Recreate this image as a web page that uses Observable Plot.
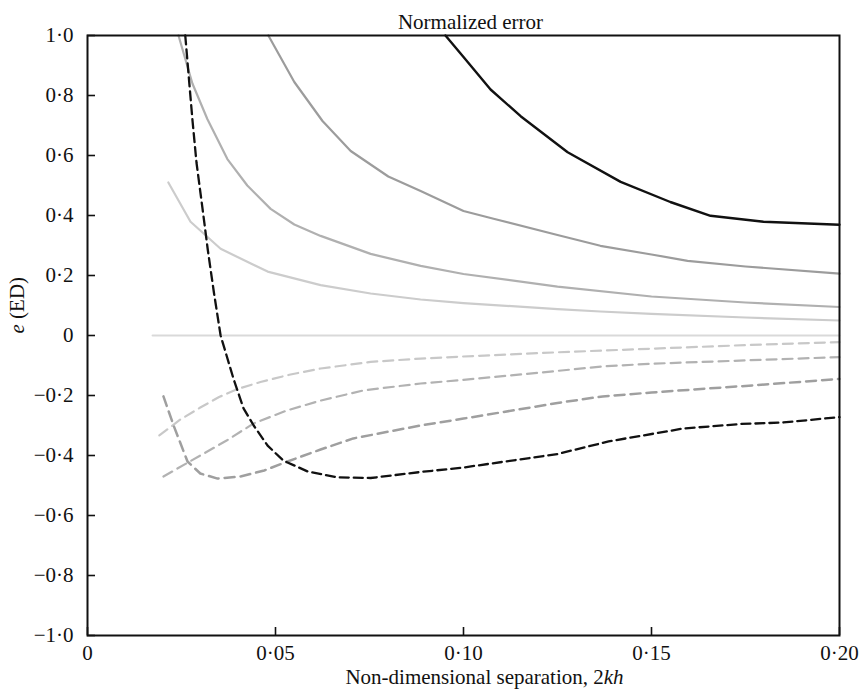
<!DOCTYPE html>
<html>
<head>
<meta charset="utf-8">
<script src="https://cdn.jsdelivr.net/npm/d3@7"></script>
<script src="https://cdn.jsdelivr.net/npm/@observablehq/plot@0.6"></script>
<style>
  html, body { margin: 0; padding: 0; background: #fff; }
</style>
</head>
<body>
<div id="chart"></div>
<script>
// ---- data ----
const titleText = "Normalized error";
const xLabel = "Non-dimensional separation, 2kh";
const yLabel = "e (ED)";
const xTicks = [0, 0.05, 0.10, 0.15, 0.20];
const yTicks = [-1, -0.8, -0.6, -0.4, -0.2, 0, 0.2, 0.4, 0.6, 0.8, 1];

// solid curves (positive error)
const aX = [0.0952, 0.1, 0.1072, 0.1152, 0.1277, 0.1418, 0.155, 0.1657, 0.1798, 0.2];
const aY = [1.0, 0.928, 0.82, 0.731, 0.611, 0.512, 0.445, 0.399, 0.379, 0.369];

const bX = [0.0481, 0.055, 0.0625, 0.07, 0.08, 0.0886, 0.1, 0.108, 0.125, 0.1364, 0.15, 0.1596, 0.175, 0.2];
const bY = [1.0, 0.845, 0.715, 0.615, 0.53, 0.482, 0.415, 0.389, 0.335, 0.299, 0.27, 0.249, 0.23, 0.206];

const cX = [0.0242, 0.0279, 0.0319, 0.0372, 0.0425, 0.0487, 0.055, 0.062, 0.0753, 0.0886, 0.1, 0.125, 0.15, 0.175, 0.2];
const cY = [1.0, 0.84, 0.721, 0.588, 0.50, 0.422, 0.37, 0.332, 0.272, 0.232, 0.205, 0.163, 0.13, 0.11, 0.095];

const dX = [0.0215, 0.0274, 0.0354, 0.0479, 0.062, 0.0753, 0.0886, 0.1, 0.125, 0.1364, 0.15, 0.175, 0.2];
const dY = [0.51, 0.379, 0.289, 0.213, 0.168, 0.14, 0.12, 0.108, 0.088, 0.08, 0.072, 0.06, 0.05];

const eX = [0.0173, 0.2];
const eY = [0, 0];

// dashed curves (negative error)
const fX = [0.0191, 0.0247, 0.03, 0.035, 0.04, 0.046, 0.054, 0.062, 0.0753, 0.0886, 0.1, 0.125, 0.15, 0.175, 0.2];
const fY = [-0.333, -0.28, -0.24, -0.205, -0.178, -0.155, -0.13, -0.11, -0.088, -0.077, -0.07, -0.056, -0.044, -0.032, -0.022];

const gX = [0.0202, 0.03, 0.037, 0.0442, 0.053, 0.062, 0.0734, 0.0886, 0.1, 0.125, 0.137, 0.15, 0.175, 0.2];
const gY = [-0.47, -0.40, -0.35, -0.293, -0.25, -0.217, -0.183, -0.16, -0.148, -0.118, -0.103, -0.094, -0.083, -0.072];

const hX = [0.0202, 0.0229, 0.0266, 0.03, 0.0346, 0.0407, 0.047, 0.0532, 0.062, 0.0707, 0.0886, 0.1, 0.125, 0.137, 0.15, 0.175, 0.2];
const hY = [-0.203, -0.30, -0.42, -0.46, -0.477, -0.47, -0.45, -0.42, -0.38, -0.343, -0.30, -0.277, -0.225, -0.203, -0.19, -0.168, -0.145];

const iX = [0.026, 0.0279, 0.029, 0.0306, 0.032, 0.0336, 0.0354, 0.0388, 0.0415, 0.0442, 0.0479, 0.0521, 0.0585, 0.0665, 0.0753, 0.0886, 0.1, 0.125, 0.1386, 0.1585, 0.1737, 0.185, 0.2];
const iY = [1.0, 0.72, 0.575, 0.422, 0.285, 0.145, 0.0, -0.143, -0.243, -0.30, -0.367, -0.417, -0.453, -0.473, -0.475, -0.455, -0.44, -0.395, -0.353, -0.31, -0.295, -0.29, -0.272];

// ---- build ----
const rows = (xs, ys) => xs.map((x, i) => ({x, y: ys[i]}));
const W = 866, H = 696;
const mL = 87, mR = 27, mT = 35, mB = 61;
const frameW = W - mL - mR, frameH = H - mT - mB;

const fmtY = v => v === 0 ? "0" : (v < 0 ? "\u2212" : "") + Math.abs(v).toFixed(1).replace(".", "\u00B7");
const fmtX = v => v === 0 ? "0" : v.toFixed(2).replace(".", "\u00B7");

const gray = (xs, ys, stroke, extra = {}) =>
  Plot.line(rows(xs, ys), {x: "x", y: "y", stroke, strokeWidth: 2.2, ...extra});

const chart = Plot.plot({
  width: W,
  height: H,
  marginLeft: mL,
  marginRight: mR,
  marginTop: mT,
  marginBottom: mB,
  style: {fontFamily: "'Liberation Serif', 'DejaVu Serif', serif", fontSize: "21px", color: "#111", background: "#fff"},
  x: {domain: [0, 0.2]},
  y: {domain: [-1, 1]},
  marks: [
    gray(eX, eY, "#d9d9d9", {strokeWidth: 2}),
    gray(dX, dY, "#cccccc"),
    gray(cX, cY, "#b0b0b0"),
    gray(bX, bY, "#9c9c9c"),
    gray(aX, aY, "#111111", {strokeWidth: 2.4}),
    gray(fX, fY, "#c8c8c8", {strokeDasharray: "10,6"}),
    gray(gX, gY, "#b2b2b2", {strokeDasharray: "10,6"}),
    gray(hX, hY, "#9f9f9f", {strokeDasharray: "10,6", strokeWidth: 2.5}),
    gray(iX, iY, "#111111", {strokeDasharray: "9,5", strokeWidth: 2.3}),
    Plot.tickY(yTicks, {y: d => d, insetRight: frameW - 8, stroke: "#111", strokeWidth: 1.6}),
    Plot.tickX(xTicks, {x: d => d, insetTop: frameH - 8, stroke: "#111", strokeWidth: 1.6}),
    Plot.frame({stroke: "#111", strokeWidth: 2}),
    Plot.axisY({ticks: yTicks, tickSize: 0, tickPadding: 14, tickFormat: fmtY, label: null, fill: "#111"}),
    Plot.axisX({ticks: xTicks, tickSize: 0, tickPadding: 10, tickFormat: fmtX, label: null, fill: "#111"}),
    Plot.text([titleText], {text: d => d, frameAnchor: "top", dy: -21, dx: 7, fill: "#111"}),
    Plot.text([xLabel], {text: d => d, frameAnchor: "bottom", dy: 48, dx: 21, fill: "#111"}),
    Plot.text([yLabel], {text: d => d, frameAnchor: "left", dx: -70, dy: -2, rotate: -90, fill: "#111"})
  ]
});

document.getElementById("chart").appendChild(chart);

// italic parts of the axis labels, kept as real text
d3.select(chart).selectAll("text").each(function () {
  const t = d3.select(this);
  const s = this.textContent;
  if (s === xLabel) {
    t.text(null);
    t.append("tspan").text("Non-dimensional separation, 2");
    t.append("tspan").attr("font-style", "italic").text("kh");
  } else if (s === yLabel) {
    t.text(null);
    t.append("tspan").attr("font-style", "italic").text("e");
    t.append("tspan").text(" (ED)");
  }
});
</script>
</body>
</html>
